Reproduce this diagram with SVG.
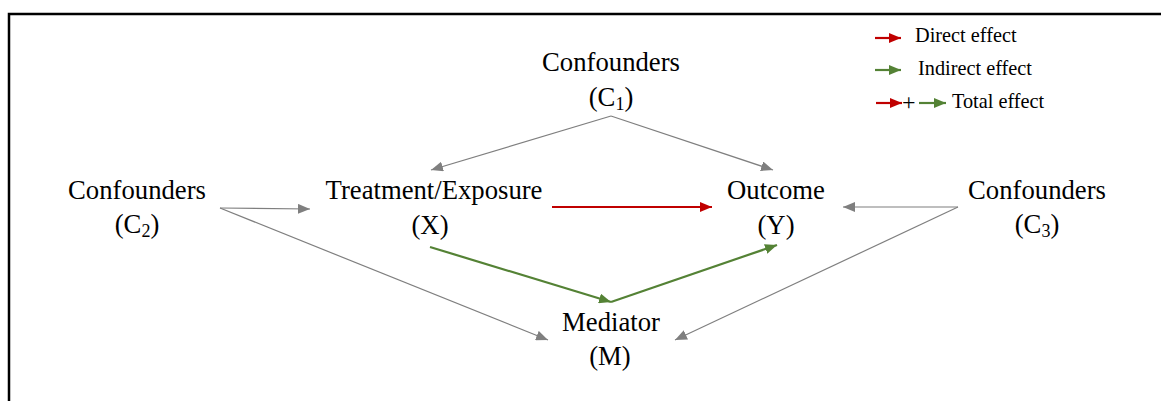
<svg xmlns="http://www.w3.org/2000/svg" width="1161" height="401" viewBox="0 0 1161 401">
<style>
.t{font-family:"Liberation Serif","Times New Roman",serif;font-size:26.7px;fill:#000;text-anchor:middle}
.s{font-size:18px}
.lg{font-family:"Liberation Serif","Times New Roman",serif;font-size:20.3px;fill:#000}
.g{stroke:#7f7f7f;stroke-width:1.2;fill:none}
.r{stroke:#c00000;stroke-width:2.2;fill:none}
.gr{stroke:#548235;stroke-width:2.2;fill:none}
</style>
<defs>
<marker id="ag" markerUnits="userSpaceOnUse" markerWidth="12" markerHeight="10" refX="12" refY="5" orient="auto"><path d="M0,0 L12,5 L0,10 z" fill="#7f7f7f"/></marker>
<marker id="ar" markerUnits="userSpaceOnUse" markerWidth="12" markerHeight="10" refX="12" refY="5" orient="auto"><path d="M0,0 L12,5 L0,10 z" fill="#c00000"/></marker>
<marker id="agr" markerUnits="userSpaceOnUse" markerWidth="12" markerHeight="10" refX="12" refY="5" orient="auto"><path d="M0,0 L12,5 L0,10 z" fill="#548235"/></marker>
</defs>
<rect width="1161" height="401" fill="#fff"/>
<path d="M9,401 V14 H1161" stroke="#000" stroke-width="2.5" fill="none"/>

<g id="connectors">
<line class="g" x1="611" y1="116" x2="431" y2="170" marker-end="url(#ag)"/>
<line class="g" x1="611" y1="116" x2="773" y2="170" marker-end="url(#ag)"/>
<line class="g" x1="220" y1="208" x2="310" y2="209" marker-end="url(#ag)"/>
<line class="g" x1="220" y1="208" x2="548" y2="340" marker-end="url(#ag)"/>
<line class="g" x1="958" y1="207" x2="843" y2="207" marker-end="url(#ag)"/>
<line class="g" x1="958" y1="207" x2="675" y2="340" marker-end="url(#ag)"/>
<line class="r" x1="552" y1="207" x2="712" y2="207" marker-end="url(#ar)"/>
<line class="gr" x1="430" y1="247" x2="611" y2="302" marker-end="url(#agr)"/>
<line class="gr" x1="611" y1="302" x2="777" y2="245" marker-end="url(#agr)"/>
</g>

<g id="c1"><text class="t" x="611" y="71">Confounders</text><text class="t" x="611" y="106">(C<tspan class="s" dy="4">1</tspan><tspan dy="-4">)</tspan></text></g>
<g id="c2"><text class="t" x="137" y="199">Confounders</text><text class="t" x="137" y="233">(C<tspan class="s" dy="4">2</tspan><tspan dy="-4">)</tspan></text></g>
<g id="x"><text class="t" x="434" y="199">Treatment/Exposure</text><text class="t" x="430" y="234">(X)</text></g>
<g id="y"><text class="t" x="776" y="199">Outcome</text><text class="t" x="776" y="234">(Y)</text></g>
<g id="c3"><text class="t" x="1037" y="199">Confounders</text><text class="t" x="1037" y="233">(C<tspan class="s" dy="4">3</tspan><tspan dy="-4">)</tspan></text></g>
<g id="m"><text class="t" x="611" y="331">Mediator</text><text class="t" x="610" y="365">(M)</text></g>

<g id="legend">
<line class="r" x1="875" y1="38" x2="901" y2="38" marker-end="url(#ar)"/>
<text class="lg" x="915" y="42">Direct effect</text>
<line class="gr" x1="875" y1="70" x2="901" y2="70" marker-end="url(#agr)"/>
<text class="lg" x="918" y="75">Indirect effect</text>
<line class="r" x1="876" y1="103" x2="902" y2="103" marker-end="url(#ar)"/>
<text class="lg" x="902" y="110" style="font-size:24px">+</text>
<line class="gr" x1="919" y1="103" x2="946" y2="103" marker-end="url(#agr)"/>
<text class="lg" x="952" y="108">Total effect</text>
</g>
</svg>
